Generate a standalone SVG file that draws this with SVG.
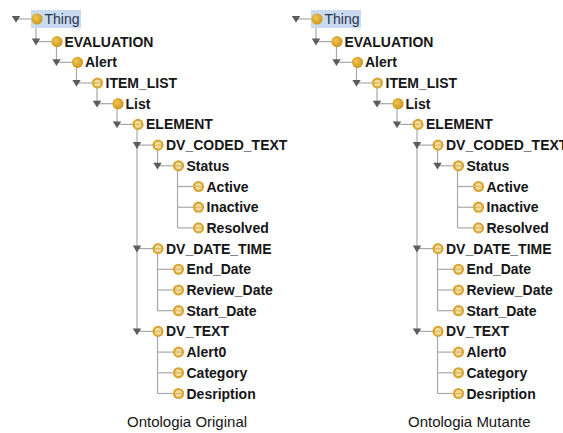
<svg xmlns="http://www.w3.org/2000/svg" width="563" height="433" viewBox="0 0 563 433">
<style>
  .lbl{font-family:"Liberation Sans",Arial,sans-serif;font-weight:bold;font-size:14px;fill:#161616}
  .root{font-family:"Liberation Sans",Arial,sans-serif;font-size:14px;fill:#2a3550}
  .cap{font-family:"Liberation Sans",Arial,sans-serif;font-size:15px;fill:#161616}
  .ln{stroke:#a8a8a8;stroke-width:1.2;fill:none}
  .tri{fill:#5c5c5c}
</style>
<defs>
  <radialGradient id="gs" cx="0.4" cy="0.4" r="0.6">
    <stop offset="0" stop-color="#efc650"/>
    <stop offset="1" stop-color="#cc961f"/>
  </radialGradient>
  <symbol id="solid" overflow="visible"><circle r="5.6" fill="url(#gs)"/></symbol>
  <symbol id="strip" overflow="visible">
    <circle r="5.6" fill="#d6a637"/>
    <rect x="-3" y="-3.3" width="6" height="6.6" rx="2" fill="#f2dc9c"/>
    <line x1="-2.5" y1="0" x2="2.5" y2="0" stroke="#d4a844" stroke-width="0.8"/>
  </symbol>
  <symbol id="tri" overflow="visible"><polygon class="tri" points="-4.2,-3 4.2,-3 0,3.8"/></symbol>
</defs>
<rect width="563" height="433" fill="#ffffff"/>

<!-- LEFT TREE -->
<g id="connectors-left">
  <line class="ln" x1="16" y1="19" x2="32" y2="19"/>
  <line class="ln" x1="36" y1="24" x2="36" y2="41.6"/>
  <line class="ln" x1="36" y1="41.6" x2="52" y2="41.6"/>
  <line class="ln" x1="56.5" y1="46" x2="56.5" y2="62.3"/>
  <line class="ln" x1="56.5" y1="62.3" x2="72.5" y2="62.3"/>
  <line class="ln" x1="76.5" y1="67" x2="76.5" y2="83"/>
  <line class="ln" x1="76.5" y1="83" x2="92.5" y2="83"/>
  <line class="ln" x1="97" y1="88" x2="97" y2="103.7"/>
  <line class="ln" x1="97" y1="103.7" x2="113" y2="103.7"/>
  <line class="ln" x1="117" y1="108" x2="117" y2="124.4"/>
  <line class="ln" x1="117" y1="124.4" x2="133" y2="124.4"/>
  <line class="ln" x1="137" y1="129" x2="137" y2="331.4"/>
  <line class="ln" x1="137" y1="145.1" x2="153" y2="145.1"/>
  <line class="ln" x1="157.5" y1="150" x2="157.5" y2="165.8"/>
  <line class="ln" x1="157.5" y1="165.8" x2="173.5" y2="165.8"/>
  <line class="ln" x1="177.5" y1="170" x2="177.5" y2="227.9"/>
  <line class="ln" x1="177.5" y1="186.5" x2="193.5" y2="186.5"/>
  <line class="ln" x1="177.5" y1="207.2" x2="193.5" y2="207.2"/>
  <line class="ln" x1="177.5" y1="227.9" x2="193.5" y2="227.9"/>
  <line class="ln" x1="137" y1="248.6" x2="153" y2="248.6"/>
  <line class="ln" x1="157.5" y1="253" x2="157.5" y2="310.7"/>
  <line class="ln" x1="157.5" y1="269.3" x2="173.5" y2="269.3"/>
  <line class="ln" x1="157.5" y1="290" x2="173.5" y2="290"/>
  <line class="ln" x1="157.5" y1="310.7" x2="173.5" y2="310.7"/>
  <line class="ln" x1="137" y1="331.4" x2="153" y2="331.4"/>
  <line class="ln" x1="157.5" y1="336" x2="157.5" y2="393.5"/>
  <line class="ln" x1="157.5" y1="352.1" x2="173.5" y2="352.1"/>
  <line class="ln" x1="157.5" y1="372.8" x2="173.5" y2="372.8"/>
  <line class="ln" x1="157.5" y1="393.5" x2="173.5" y2="393.5"/>
</g>
<g id="L-thing"><rect x="31" y="10" width="50" height="18" fill="#c9d9ee"/><use href="#tri" x="16" y="19"/><use href="#solid" x="37" y="19"/><text class="root" x="44.5" y="24">Thing</text></g>
<g id="L-evaluation"><use href="#tri" x="36" y="41.6"/><use href="#solid" x="57" y="41.6"/><text class="lbl" x="64.5" y="46.6">EVALUATION</text></g>
<g id="L-alert"><use href="#tri" x="56.5" y="62.3"/><use href="#solid" x="77.5" y="62.3"/><text class="lbl" x="85" y="67.3">Alert</text></g>
<g id="L-item_list"><use href="#tri" x="76.5" y="83"/><use href="#strip" x="97.5" y="83"/><text class="lbl" x="105.5" y="88">ITEM_LIST</text></g>
<g id="L-list"><use href="#tri" x="97" y="103.7"/><use href="#solid" x="118" y="103.7"/><text class="lbl" x="125.5" y="108.7">List</text></g>
<g id="L-element"><use href="#tri" x="117" y="124.4"/><use href="#strip" x="138" y="124.4"/><text class="lbl" x="146" y="129.4">ELEMENT</text></g>
<g id="L-dv_coded_text"><use href="#tri" x="137" y="145.1"/><use href="#strip" x="158" y="145.1"/><text class="lbl" x="166" y="150.1">DV_CODED_TEXT</text></g>
<g id="L-status"><use href="#tri" x="157.5" y="165.8"/><use href="#strip" x="178.5" y="165.8"/><text class="lbl" x="186.5" y="170.8">Status</text></g>
<g id="L-active"><use href="#strip" x="198.5" y="186.5"/><text class="lbl" x="206.5" y="191.5">Active</text></g>
<g id="L-inactive"><use href="#strip" x="198.5" y="207.2"/><text class="lbl" x="206.5" y="212.2">Inactive</text></g>
<g id="L-resolved"><use href="#strip" x="198.5" y="227.9"/><text class="lbl" x="206.5" y="232.9">Resolved</text></g>
<g id="L-dv_date_time"><use href="#tri" x="137" y="248.6"/><use href="#strip" x="158" y="248.6"/><text class="lbl" x="166" y="253.6">DV_DATE_TIME</text></g>
<g id="L-end_date"><use href="#strip" x="178.5" y="269.3"/><text class="lbl" x="186.5" y="274.3">End_Date</text></g>
<g id="L-review_date"><use href="#strip" x="178.5" y="290"/><text class="lbl" x="186.5" y="295">Review_Date</text></g>
<g id="L-start_date"><use href="#strip" x="178.5" y="310.7"/><text class="lbl" x="186.5" y="315.7">Start_Date</text></g>
<g id="L-dv_text"><use href="#tri" x="137" y="331.4"/><use href="#strip" x="158" y="331.4"/><text class="lbl" x="166" y="336.4">DV_TEXT</text></g>
<g id="L-alert0"><use href="#strip" x="178.5" y="352.1"/><text class="lbl" x="186.5" y="357.1">Alert0</text></g>
<g id="L-category"><use href="#strip" x="178.5" y="372.8"/><text class="lbl" x="186.5" y="377.8">Category</text></g>
<g id="L-desription"><use href="#strip" x="178.5" y="393.5"/><text class="lbl" x="186.5" y="398.5">Desription</text></g>
<text class="cap" x="127" y="427">Ontologia Original</text>

<!-- RIGHT TREE -->
<g transform="translate(280,0)">
<g id="connectors-right">
  <line class="ln" x1="16" y1="19" x2="32" y2="19"/>
  <line class="ln" x1="36" y1="24" x2="36" y2="41.6"/>
  <line class="ln" x1="36" y1="41.6" x2="52" y2="41.6"/>
  <line class="ln" x1="56.5" y1="46" x2="56.5" y2="62.3"/>
  <line class="ln" x1="56.5" y1="62.3" x2="72.5" y2="62.3"/>
  <line class="ln" x1="76.5" y1="67" x2="76.5" y2="83"/>
  <line class="ln" x1="76.5" y1="83" x2="92.5" y2="83"/>
  <line class="ln" x1="97" y1="88" x2="97" y2="103.7"/>
  <line class="ln" x1="97" y1="103.7" x2="113" y2="103.7"/>
  <line class="ln" x1="117" y1="108" x2="117" y2="124.4"/>
  <line class="ln" x1="117" y1="124.4" x2="133" y2="124.4"/>
  <line class="ln" x1="137" y1="129" x2="137" y2="331.4"/>
  <line class="ln" x1="137" y1="145.1" x2="153" y2="145.1"/>
  <line class="ln" x1="157.5" y1="150" x2="157.5" y2="165.8"/>
  <line class="ln" x1="157.5" y1="165.8" x2="173.5" y2="165.8"/>
  <line class="ln" x1="177.5" y1="170" x2="177.5" y2="227.9"/>
  <line class="ln" x1="177.5" y1="186.5" x2="193.5" y2="186.5"/>
  <line class="ln" x1="177.5" y1="207.2" x2="193.5" y2="207.2"/>
  <line class="ln" x1="177.5" y1="227.9" x2="193.5" y2="227.9"/>
  <line class="ln" x1="137" y1="248.6" x2="153" y2="248.6"/>
  <line class="ln" x1="157.5" y1="253" x2="157.5" y2="310.7"/>
  <line class="ln" x1="157.5" y1="269.3" x2="173.5" y2="269.3"/>
  <line class="ln" x1="157.5" y1="290" x2="173.5" y2="290"/>
  <line class="ln" x1="157.5" y1="310.7" x2="173.5" y2="310.7"/>
  <line class="ln" x1="137" y1="331.4" x2="153" y2="331.4"/>
  <line class="ln" x1="157.5" y1="336" x2="157.5" y2="393.5"/>
  <line class="ln" x1="157.5" y1="352.1" x2="173.5" y2="352.1"/>
  <line class="ln" x1="157.5" y1="372.8" x2="173.5" y2="372.8"/>
  <line class="ln" x1="157.5" y1="393.5" x2="173.5" y2="393.5"/>
</g>
<g id="R-thing"><rect x="31" y="10" width="50" height="18" fill="#c9d9ee"/><use href="#tri" x="16" y="19"/><use href="#solid" x="37" y="19"/><text class="root" x="44.5" y="24">Thing</text></g>
<g id="R-evaluation"><use href="#tri" x="36" y="41.6"/><use href="#solid" x="57" y="41.6"/><text class="lbl" x="64.5" y="46.6">EVALUATION</text></g>
<g id="R-alert"><use href="#tri" x="56.5" y="62.3"/><use href="#solid" x="77.5" y="62.3"/><text class="lbl" x="85" y="67.3">Alert</text></g>
<g id="R-item_list"><use href="#tri" x="76.5" y="83"/><use href="#strip" x="97.5" y="83"/><text class="lbl" x="105.5" y="88">ITEM_LIST</text></g>
<g id="R-list"><use href="#tri" x="97" y="103.7"/><use href="#solid" x="118" y="103.7"/><text class="lbl" x="125.5" y="108.7">List</text></g>
<g id="R-element"><use href="#tri" x="117" y="124.4"/><use href="#strip" x="138" y="124.4"/><text class="lbl" x="146" y="129.4">ELEMENT</text></g>
<g id="R-dv_coded_text"><use href="#tri" x="137" y="145.1"/><use href="#strip" x="158" y="145.1"/><text class="lbl" x="166" y="150.1">DV_CODED_TEXT</text></g>
<g id="R-status"><use href="#tri" x="157.5" y="165.8"/><use href="#strip" x="178.5" y="165.8"/><text class="lbl" x="186.5" y="170.8">Status</text></g>
<g id="R-active"><use href="#strip" x="198.5" y="186.5"/><text class="lbl" x="206.5" y="191.5">Active</text></g>
<g id="R-inactive"><use href="#strip" x="198.5" y="207.2"/><text class="lbl" x="206.5" y="212.2">Inactive</text></g>
<g id="R-resolved"><use href="#strip" x="198.5" y="227.9"/><text class="lbl" x="206.5" y="232.9">Resolved</text></g>
<g id="R-dv_date_time"><use href="#tri" x="137" y="248.6"/><use href="#strip" x="158" y="248.6"/><text class="lbl" x="166" y="253.6">DV_DATE_TIME</text></g>
<g id="R-end_date"><use href="#strip" x="178.5" y="269.3"/><text class="lbl" x="186.5" y="274.3">End_Date</text></g>
<g id="R-review_date"><use href="#strip" x="178.5" y="290"/><text class="lbl" x="186.5" y="295">Review_Date</text></g>
<g id="R-start_date"><use href="#strip" x="178.5" y="310.7"/><text class="lbl" x="186.5" y="315.7">Start_Date</text></g>
<g id="R-dv_text"><use href="#tri" x="137" y="331.4"/><use href="#strip" x="158" y="331.4"/><text class="lbl" x="166" y="336.4">DV_TEXT</text></g>
<g id="R-alert0"><use href="#strip" x="178.5" y="352.1"/><text class="lbl" x="186.5" y="357.1">Alert0</text></g>
<g id="R-category"><use href="#strip" x="178.5" y="372.8"/><text class="lbl" x="186.5" y="377.8">Category</text></g>
<g id="R-desription"><use href="#strip" x="178.5" y="393.5"/><text class="lbl" x="186.5" y="398.5">Desription</text></g>
<text class="cap" x="128" y="427">Ontologia Mutante</text>
</g>
</svg>
